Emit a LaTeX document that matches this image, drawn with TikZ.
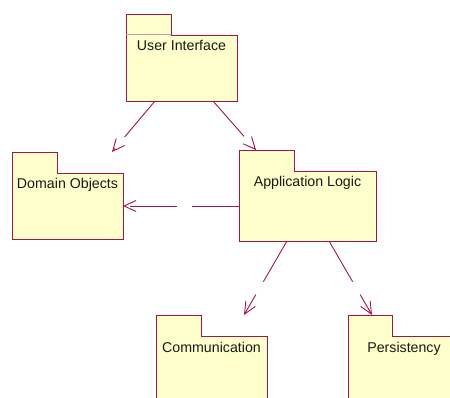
\documentclass[tikz,border=0pt]{standalone}
\usepackage{fontspec}
\setmainfont{Liberation Sans}
\usetikzlibrary{arrows.meta}
\definecolor{pkgline}{RGB}{165,20,75}
\definecolor{pkgfill}{RGB}{255,255,204}
\tikzset{
  pkgbox/.style={rectangle, inner sep=0pt, outer sep=0pt, anchor=north west},
  pkgshape/.style={draw=pkgline, fill=pkgfill, line width=0.9pt, line join=miter},
  pkglabel/.style={anchor=base, inner sep=0pt, font=\fontsize{14.2}{16}\selectfont, text=black!90},
  dep/.style={draw=pkgline, line width=0.9pt, dash pattern=on 47pt off 15pt,
    -{Straight Barb[length=12pt,width=11pt]}},
}
% name, left, top, width, height, tab width, label
\newcommand\drawpkg[7]{%
  \node[pkgbox, minimum width=#4pt, minimum height=#5pt] (#1) at (#2,#3) {};
  \path[pkgshape] (#1.north west) -- ([xshift=#6pt]#1.north west)
    -- ([xshift=#6pt,yshift=-21pt]#1.north west) -- ([yshift=-21pt]#1.north east)
    -- (#1.south east) -- (#1.south west) -- cycle;
  \node[pkglabel] (#1-l) at ([yshift=-37pt]#1.north) {#7};
}
\begin{document}
\begin{tikzpicture}[x=1pt,y=-1pt]
\useasboundingbox (0,0) rectangle (450,398);
\clip (0,0) rectangle (450,398);
\drawpkg{ui}{126}{14}{111}{87}{45}{User Interface}
\draw[pkgline!45, line width=0.6pt] ([yshift=-20pt]ui.north west) -- ([xshift=45pt,yshift=-20pt]ui.north west);
\drawpkg{dobj}{12}{152}{111}{87}{45}{Domain Objects}
\drawpkg{al}{239}{150}{137}{91}{55}{Application Logic}
\drawpkg{comm}{156}{315}{111}{87}{45}{Communication}
\drawpkg{pers}{348}{315}{112}{87}{44}{Persistency}

\draw[dep] ([xshift=-26.5pt]ui.south) -- ([xshift=44.5pt]dobj.north);
\draw[dep] ([xshift=31.5pt]ui.south) -- ([xshift=-51.5pt]al.north);
\draw[dep] ([yshift=-10.5pt]al.west) -- ([yshift=-10.5pt]dobj.east);
\draw[dep] ([xshift=-20.5pt]al.south) -- ([xshift=32.5pt]comm.north);
\draw[dep] ([xshift=21.5pt]al.south) -- ([xshift=-32pt]pers.north);
\end{tikzpicture}
\end{document}
